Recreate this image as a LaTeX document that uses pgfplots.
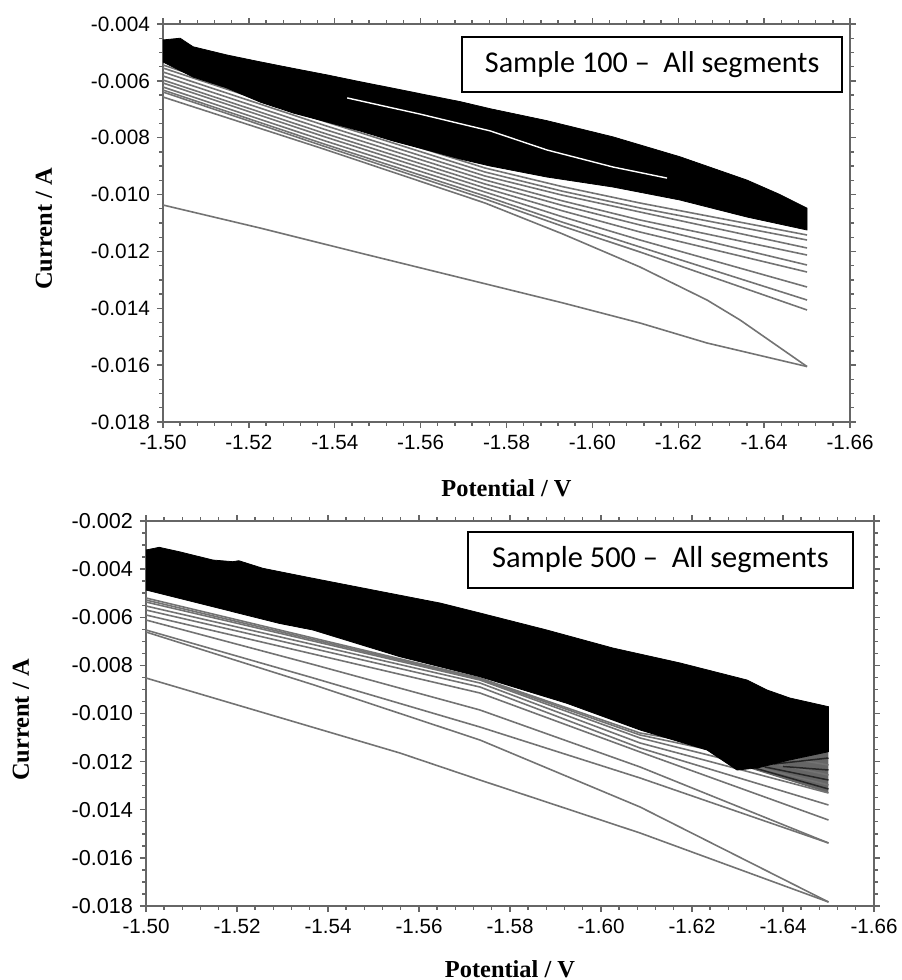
\documentclass[border=0pt]{standalone}
\usepackage{fontspec}
\setmainfont{Liberation Sans}
\newfontfamily\timesfont{Liberation Serif}
\newfontfamily\calibri{Carlito}
\usepackage{pgfplots}
\pgfplotsset{compat=1.18}
\pgfplotsset{
  cvstyle/.style={
    scale only axis,
    x dir=reverse,
    xmin=-1.66, xmax=-1.50,
    xtick={-1.66,-1.64,-1.62,-1.60,-1.58,-1.56,-1.54,-1.52,-1.50},
    minor x tick num=4,
    minor y tick num=3,
    tick align=outside,
    major tick length=3pt,
    minor tick length=1.8pt,
    axis line style={draw=black!60, line width=1pt},
    tick style={draw=black!60, line width=0.7pt},
    scaled ticks=false,
    /pgf/number format/assume math mode=true,
    xticklabel style={/pgf/number format/fixed, /pgf/number format/fixed zerofill, /pgf/number format/precision=2, font=\fontsize{10.3}{12}\selectfont},
    yticklabel style={/pgf/number format/fixed, /pgf/number format/fixed zerofill, /pgf/number format/precision=3, font=\fontsize{10.4}{12}\selectfont},
    xlabel={Potential / V},
    ylabel={Current / A},
    label style={font=\fontsize{12.2}{14}\selectfont\timesfont\bfseries},
  },
  gline/.style={draw=black!55, line width=0.8pt, line join=round},
  hline/.style={draw=black!85, line width=0.75pt, line join=round},
}
\begin{document}
\begin{tikzpicture}
\useasboundingbox (0,0) rectangle (450.5pt,-490pt);
% ---------------- top panel: Sample 100 ----------------
\begin{axis}[cvstyle,
  at={(81.5pt,-211pt)}, anchor=south west,
  width=343.5pt, height=199pt,
  ymin=-0.018, ymax=-0.004,
  ytick={-0.018,-0.016,-0.014,-0.012,-0.010,-0.008,-0.006,-0.004},
  xlabel style={at={(axis description cs:0.5,-0.1658)}, anchor=center},
  ylabel style={at={(axis description cs:-0.1732,0.485)}, anchor=center},
]
% lowest segment
\addplot[gline] coordinates {(-1.5000,-0.010367) (-1.5226,-0.011176) (-1.5459,-0.012055) (-1.5762,-0.013181) (-1.5932,-0.013814) (-1.6111,-0.014518) (-1.6267,-0.015221) (-1.6500,-0.016050)};
% steep segment
\addplot[gline] coordinates {(-1.5000,-0.006568) (-1.5375,-0.008400) (-1.5750,-0.010297) (-1.5930,-0.011380) (-1.6111,-0.012548) (-1.6267,-0.013709) (-1.6344,-0.014412) (-1.6500,-0.016050)};
% segments below the band
\addplot[gline] coordinates {(-1.50,-0.005442) (-1.5375,-0.007300) (-1.575,-0.009065) (-1.5930,-0.009720) (-1.6111,-0.010297) (-1.65,-0.011422)};
\addplot[gline] coordinates {(-1.50,-0.005548) (-1.5375,-0.007420) (-1.575,-0.009206) (-1.5930,-0.009880) (-1.6111,-0.010472) (-1.65,-0.011598)};
\addplot[gline] coordinates {(-1.50,-0.005688) (-1.5375,-0.007560) (-1.575,-0.009347) (-1.5930,-0.010020) (-1.6111,-0.010613) (-1.65,-0.011879)};
\addplot[gline] coordinates {(-1.50,-0.005829) (-1.5375,-0.007700) (-1.575,-0.009487) (-1.5930,-0.010220) (-1.6111,-0.010894) (-1.65,-0.012126)};
\addplot[gline] coordinates {(-1.50,-0.005970) (-1.5375,-0.007840) (-1.575,-0.009628) (-1.5930,-0.010380) (-1.6111,-0.011070) (-1.65,-0.012477)};
\addplot[gline] coordinates {(-1.50,-0.006075) (-1.5375,-0.007960) (-1.575,-0.009769) (-1.5930,-0.010570) (-1.6111,-0.011317) (-1.65,-0.012724)};
\addplot[gline] coordinates {(-1.50,-0.006216) (-1.5375,-0.008100) (-1.575,-0.009910) (-1.5930,-0.010780) (-1.6111,-0.011598) (-1.65,-0.013251)};
\addplot[gline] coordinates {(-1.50,-0.006322) (-1.5375,-0.008220) (-1.575,-0.010050) (-1.5930,-0.010970) (-1.6111,-0.011844) (-1.65,-0.013709)};
\addplot[gline] coordinates {(-1.50,-0.006392) (-1.5375,-0.008300) (-1.575,-0.010156) (-1.5930,-0.011110) (-1.6111,-0.012020) (-1.65,-0.014060)};
% dense band of segments
\addplot[fill=black, draw=black, line width=0.4pt] coordinates {
 (-1.5000,-0.00456) (-1.5040,-0.00450) (-1.5070,-0.00480) (-1.5149,-0.00509)
 (-1.5226,-0.00533) (-1.5303,-0.00556) (-1.5382,-0.00579) (-1.5459,-0.00603)
 (-1.5536,-0.00626) (-1.5615,-0.00650) (-1.5692,-0.00673) (-1.5762,-0.00698)
 (-1.5894,-0.00740) (-1.6048,-0.00797) (-1.6204,-0.00867) (-1.6360,-0.00949)
 (-1.6437,-0.01000) (-1.6500,-0.01048)
 (-1.6500,-0.011246) (-1.6360,-0.010789) (-1.6204,-0.010191) (-1.6048,-0.009734)
 (-1.5894,-0.009382) (-1.5762,-0.008995) (-1.5692,-0.008749) (-1.5615,-0.008432)
 (-1.5536,-0.008116) (-1.5459,-0.007764) (-1.5382,-0.007447) (-1.5303,-0.007131)
 (-1.5226,-0.006744) (-1.5149,-0.006252) (-1.5070,-0.005865) (-1.5000,-0.005337)
};
% light gap inside the band
\addplot[draw=white, line width=0.7pt] coordinates {(-1.5429,-0.00660) (-1.5599,-0.00717) (-1.5762,-0.00776) (-1.5894,-0.00843) (-1.6048,-0.00903) (-1.6174,-0.00942)};
\node[draw=black, line width=1.1pt, fill=white, minimum width=190pt, minimum height=27.5pt, inner sep=0pt, font=\fontsize{15.1}{18}\selectfont\calibri] at (axis description cs:0.712,0.898) {Sample 100 –\ \ All segments};
\end{axis}
% ---------------- bottom panel: Sample 500 ----------------
\begin{axis}[cvstyle,
  at={(73pt,-453pt)}, anchor=south west,
  width=364pt, height=192.5pt,
  ymin=-0.018, ymax=-0.002,
  ytick={-0.018,-0.016,-0.014,-0.012,-0.010,-0.008,-0.006,-0.004,-0.002},
  yticklabel style={font=\fontsize{10.8}{12}\selectfont},
  xlabel style={at={(axis description cs:0.5,-0.1645)}, anchor=center},
  ylabel style={at={(axis description cs:-0.1717,0.483)}, anchor=center},
]
% hatched region at the right end
\addplot[fill=black!60, draw=none] coordinates {(-1.6330,-0.012300) (-1.6500,-0.011587) (-1.6500,-0.013304)};
% lowest segments
\addplot[gline] coordinates {(-1.5000,-0.008525) (-1.5558,-0.011641) (-1.5734,-0.012764) (-1.6086,-0.014966) (-1.6500,-0.017834)};
\addplot[gline] coordinates {(-1.5000,-0.006613) (-1.5367,-0.008800) (-1.5734,-0.011101) (-1.6086,-0.013886) (-1.6500,-0.017834)};
\addplot[gline] coordinates {(-1.5000,-0.006530) (-1.5367,-0.008520) (-1.5734,-0.010561) (-1.6086,-0.012680) (-1.6500,-0.015382)};
\addplot[gline] coordinates {(-1.5000,-0.006114) (-1.5367,-0.007960) (-1.5734,-0.009854) (-1.6086,-0.012223) (-1.6500,-0.015382)};
% segments below the band
\addplot[gline] coordinates {(-1.5000,-0.005906) (-1.5734,-0.009148) (-1.6086,-0.011600) (-1.6500,-0.014426)};
\addplot[gline] coordinates {(-1.5000,-0.005699) (-1.5734,-0.008899) (-1.6086,-0.011434) (-1.6500,-0.013802)};
\addplot[gline] coordinates {(-1.5000,-0.005532) (-1.5734,-0.008732) (-1.6086,-0.011226) (-1.6500,-0.013304)};
\addplot[gline] coordinates {(-1.5000,-0.005366) (-1.5734,-0.008608) (-1.6086,-0.011018) (-1.6500,-0.012971)};
\addplot[gline] coordinates {(-1.5000,-0.005283) (-1.5734,-0.008566) (-1.6086,-0.010893) (-1.6500,-0.012556)};
\addplot[gline] coordinates {(-1.5000,-0.005200) (-1.5734,-0.008525) (-1.6086,-0.010810) (-1.6500,-0.012140)};
\addplot[hline] coordinates {(-1.6380,-0.012100) (-1.6500,-0.011849)};
\addplot[hline] coordinates {(-1.6400,-0.012200) (-1.6500,-0.012348)};
\addplot[hline] coordinates {(-1.6360,-0.012220) (-1.6500,-0.012764)};
\addplot[hline] coordinates {(-1.6340,-0.012280) (-1.6500,-0.013138)};
% dense band of segments
\addplot[fill=black, draw=black, line width=0.4pt] coordinates {
 (-1.5000,-0.003205) (-1.5029,-0.003093) (-1.5073,-0.003276) (-1.5147,-0.003621)
 (-1.5191,-0.003691) (-1.5204,-0.003650) (-1.5257,-0.003966) (-1.5367,-0.004381)
 (-1.5499,-0.004868) (-1.5646,-0.005408) (-1.5734,-0.005823) (-1.5881,-0.006530)
 (-1.6026,-0.007278) (-1.6174,-0.007901) (-1.6321,-0.008608) (-1.6365,-0.009023)
 (-1.6415,-0.009356) (-1.6500,-0.009717)
 (-1.6500,-0.011587) (-1.6415,-0.011932) (-1.6343,-0.012265) (-1.6299,-0.012348)
 (-1.6233,-0.011517) (-1.6086,-0.010686) (-1.5925,-0.009576) (-1.5734,-0.008471)
 (-1.5558,-0.007639) (-1.5367,-0.006530) (-1.5292,-0.006251) (-1.5147,-0.005562)
 (-1.5000,-0.004868)
};
\node[draw=black, line width=1.1pt, fill=white, minimum width=192.5pt, minimum height=28pt, inner sep=0pt, font=\fontsize{15.2}{18}\selectfont\calibri] at (axis description cs:0.7067,0.8987) {Sample 500 –\ \ All segments};
\end{axis}
\end{tikzpicture}
\end{document}
